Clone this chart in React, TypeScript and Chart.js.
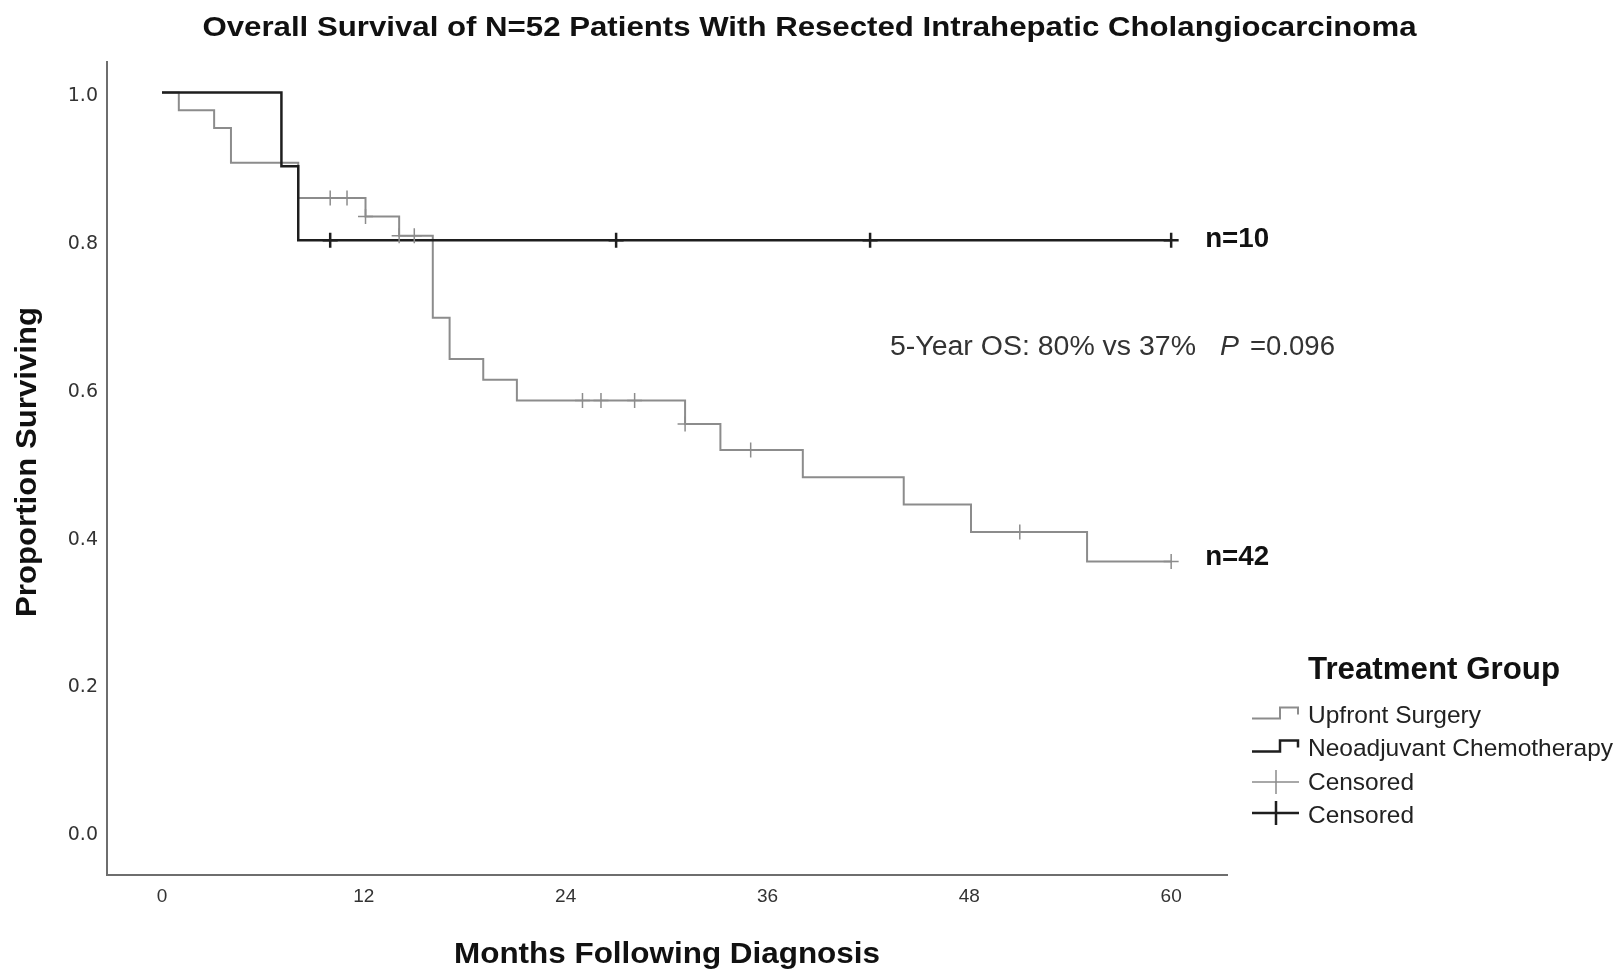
import React, { useEffect, useRef } from "react";
import { Chart, registerables } from "chart.js";

Chart.register(...registerables);

// ---- Data ----
const chartTitle = "Overall Survival of N=52 Patients With Resected Intrahepatic Cholangiocarcinoma";
const xAxisTitle = "Months Following Diagnosis";
const yAxisTitle = "Proportion Surviving";
const legendTitle = "Treatment Group";
const seriesLabels = ["Upfront Surgery", "Neoadjuvant Chemotherapy"];
const censorLabel = "Censored";
const groupSizes = ["n=42", "n=10"];
const annotationMain = "5-Year OS: 80% vs 37%";
const annotationP = "P";
const annotationPValue = "=0.096";

const xTicks = [0, 12, 24, 36, 48, 60];
const yTicks = [0, 0.2, 0.4, 0.6, 0.8, 1.0];

// Upfront Surgery (n=42) Kaplan-Meier steps
const upfrontTimes = [0, 1.0, 3.1, 4.1, 8.1, 12.1, 14.1, 16.1, 17.1, 19.1, 21.1, 31.1, 33.2, 38.1, 44.1, 48.1, 55.0, 60];
const upfrontSurv = [1, 0.976, 0.952, 0.905, 0.857, 0.832, 0.806, 0.695, 0.639, 0.611, 0.583, 0.551, 0.516, 0.479, 0.442, 0.405, 0.365, 0.365];
const upfrontCensorTimes = [10.0, 11.0, 12.1, 14.1, 15.0, 25.0, 26.1, 28.1, 31.1, 35.0, 51.0, 60];
const upfrontCensorSurv = [0.857, 0.857, 0.832, 0.806, 0.806, 0.583, 0.583, 0.583, 0.551, 0.516, 0.405, 0.365];

// Neoadjuvant Chemotherapy (n=10)
const neoTimes = [0, 7.1, 8.1, 60];
const neoSurv = [1, 0.9, 0.8, 0.8];
const neoCensorTimes = [10.0, 27.0, 42.1, 60];
const neoCensorSurv = [0.8, 0.8, 0.8, 0.8];

// ---- Styles ----
const GRAY = "#8c8c8c";
const BLACK = "#1e1e1e";
const FONT = "'Liberation Sans', Arial, sans-serif";
const W = 1619;
const H = 971;

function toXY(xs: number[], ys: number[]) {
  return xs.map((x, i) => ({ x, y: ys[i] }));
}

function fitText(
  ctx: CanvasRenderingContext2D,
  text: string,
  x: number,
  yCenter: number,
  size: number,
  weight: string,
  width: number,
  align: "left" | "center",
  color: string,
  style = "normal"
) {
  ctx.save();
  ctx.font = `${style} ${weight} ${size}px ${FONT}`;
  ctx.fillStyle = color;
  ctx.textAlign = "left";
  ctx.textBaseline = "alphabetic";
  const w = ctx.measureText(text).width;
  const sx = width / w;
  const left = align === "center" ? x - width / 2 : x;
  ctx.translate(left, yCenter + size * 0.358);
  ctx.scale(sx, 1);
  ctx.fillText(text, 0, 0);
  ctx.restore();
}

const textPlugin = {
  id: "kmText",
  afterDraw(chart: any) {
    const ctx: CanvasRenderingContext2D = chart.ctx;
    const xs = chart.scales.x;
    const ys = chart.scales.y;
    const area = chart.chartArea;

    // Title
    fitText(ctx, chartTitle, W / 2, 26, 27, "bold", 1214, "center", "#111");

    // Axis titles
    fitText(ctx, xAxisTitle, (area.left + area.right) / 2, 952, 30, "bold", 426, "center", "#111");
    ctx.save();
    ctx.translate(26, 462);
    ctx.rotate(-Math.PI / 2);
    fitText(ctx, yAxisTitle, 0, 0, 29, "bold", 310, "center", "#111");
    ctx.restore();

    // Group size labels at curve ends
    const endX = xs.getPixelForValue(60) + 34;
    fitText(ctx, groupSizes[1], endX, ys.getPixelForValue(neoSurv[neoSurv.length - 1]) - 3, 27, "bold", 64, "left", "#111");
    fitText(ctx, groupSizes[0], endX, ys.getPixelForValue(upfrontSurv[upfrontSurv.length - 1]) - 6, 27, "bold", 64, "left", "#111");

    // Annotation
    fitText(ctx, annotationMain, 890, 345, 27, "normal", 306, "left", "#333");
    fitText(ctx, annotationP, 1220, 345, 27, "normal", 19, "left", "#333", "italic");
    fitText(ctx, annotationPValue, 1250, 345, 27, "normal", 85, "left", "#333");

    // Legend
    fitText(ctx, legendTitle, 1308, 668, 31, "bold", 252, "left", "#111");
    const rows = [714.5, 747.5, 781, 814];
    const labels = [seriesLabels[0], seriesLabels[1], censorLabel, censorLabel];
    const widths = [173, 305, 106, 106];
    labels.forEach((t, i) => fitText(ctx, t, 1308, rows[i], 24.5, "normal", widths[i], "left", "#222"));

    ctx.save();
    ctx.lineCap = "butt";
    ctx.lineJoin = "miter";
    // step icons
    const stepIcon = (yc: number, color: string, lw: number) => {
      ctx.strokeStyle = color;
      ctx.lineWidth = lw;
      ctx.beginPath();
      ctx.moveTo(1252, yc + 4);
      ctx.lineTo(1280, yc + 4);
      ctx.lineTo(1280, yc - 7);
      ctx.lineTo(1298, yc - 7);
      ctx.lineTo(1298, yc);
      ctx.stroke();
    };
    stepIcon(rows[0], GRAY, 2);
    stepIcon(rows[1], BLACK, 2.5);
    const crossIcon = (yc: number, color: string, lw: number) => {
      ctx.strokeStyle = color;
      ctx.lineWidth = lw;
      ctx.beginPath();
      ctx.moveTo(1252, yc);
      ctx.lineTo(1299, yc);
      ctx.moveTo(1276, yc - 12);
      ctx.lineTo(1276, yc + 12);
      ctx.stroke();
    };
    crossIcon(rows[2] + 1, GRAY, 1.5);
    crossIcon(rows[3] - 1, BLACK, 2.5);
    ctx.restore();
  },
};

export default function App() {
  const ref = useRef<HTMLCanvasElement | null>(null);

  useEffect(() => {
    if (!ref.current) return;
    const chart = new Chart(ref.current, {
      type: "line",
      data: {
        datasets: [
          {
            label: seriesLabels[1] + " " + censorLabel,
            data: toXY(neoCensorTimes, neoCensorSurv),
            showLine: false,
            pointStyle: "cross",
            pointRadius: 7.5,
            pointBorderWidth: 2.5,
            pointBorderColor: BLACK,
            borderColor: BLACK,
            order: 0,
          },
          {
            label: seriesLabels[0] + " " + censorLabel,
            data: toXY(upfrontCensorTimes, upfrontCensorSurv),
            showLine: false,
            pointStyle: "cross",
            pointRadius: 7.5,
            pointBorderWidth: 1.5,
            pointBorderColor: GRAY,
            borderColor: GRAY,
            order: 1,
          },
          {
            label: seriesLabels[1],
            data: toXY(neoTimes, neoSurv),
            stepped: "before",
            borderColor: BLACK,
            borderWidth: 2.5,
            pointRadius: 0,
            fill: false,
            order: 2,
          },
          {
            label: seriesLabels[0],
            data: toXY(upfrontTimes, upfrontSurv),
            stepped: "before",
            borderColor: GRAY,
            borderWidth: 2,
            pointRadius: 0,
            fill: false,
            order: 3,
          },
        ],
      },
      options: {
        animation: false,
        responsive: false,
        devicePixelRatio: 1,
        layout: { padding: { left: 0, right: W - 1227, top: 62, bottom: 0 } },
        plugins: {
          legend: { display: false },
          title: { display: false },
          tooltip: { enabled: false },
        },
        scales: {
          x: {
            type: "linear",
            min: -3.27,
            max: 63.32,
            grid: { display: false, drawTicks: false },
            border: { display: true, color: "#6e6e6e", width: 2 },
            ticks: {
              font: { family: FONT, size: 19 },
              color: "#333",
              padding: 11,
              maxRotation: 0,
            },
            afterBuildTicks: (s: any) => {
              s.ticks = xTicks.map((v) => ({ value: v }));
            },
            afterFit: (s: any) => {
              s.height = H - 874.5;
            },
          },
          y: {
            type: "linear",
            min: -0.0589,
            max: 1.0413,
            grid: { display: false, drawTicks: false },
            border: { display: true, color: "#6e6e6e", width: 2 },
            ticks: {
              font: { family: "'DejaVu Sans', sans-serif", size: 19 },
              color: "#333",
              padding: 9,
              labelOffset: 4,
              callback: (v: any) => Number(v).toFixed(1),
            },
            afterBuildTicks: (s: any) => {
              s.ticks = yTicks.map((v) => ({ value: v }));
            },
            afterFit: (s: any) => {
              s.width = 107;
            },
          },
        },
      },
      plugins: [textPlugin],
    } as any);
    return () => chart.destroy();
  }, []);

  return (
    <div style={{ position: "absolute", left: 0, top: 0, width: W, height: H, background: "#fff" }}>
      <canvas ref={ref} width={W} height={H} style={{ display: "block", width: W, height: H }} />
    </div>
  );
}
